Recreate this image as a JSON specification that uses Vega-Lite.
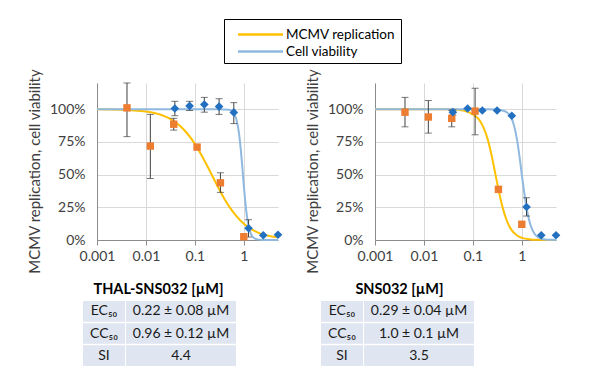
{
"$schema":"https://vega.github.io/schema/vega-lite/v6.json",
"background":"white",
"padding":{"left":27,"top":18,"right":0,"bottom":0},
"config":{"view":{"stroke":null},"font":"Lato",
 "axis":{"labelFontSize":14,"labelColor":"#404040","titleColor":"#404040","titleFontWeight":"normal","titleFontSize":15,"gridColor":"#d9d9d9","domainColor":"#8c8c8c","tickColor":"#8c8c8c","labelOverlap":false,"labelFlush":false}},
"datasets":{
"curves":[
{"panel":"THAL-SNS032","series":"MCMV replication","x":0.001,"y":0.999},
{"panel":"THAL-SNS032","series":"MCMV replication","x":0.002,"y":0.998},
{"panel":"THAL-SNS032","series":"MCMV replication","x":0.005,"y":0.992},
{"panel":"THAL-SNS032","series":"MCMV replication","x":0.01,"y":0.982},
{"panel":"THAL-SNS032","series":"MCMV replication","x":0.02,"y":0.957},
{"panel":"THAL-SNS032","series":"MCMV replication","x":0.03,"y":0.929},
{"panel":"THAL-SNS032","series":"MCMV replication","x":0.05,"y":0.871},
{"panel":"THAL-SNS032","series":"MCMV replication","x":0.07,"y":0.814},
{"panel":"THAL-SNS032","series":"MCMV replication","x":0.1,"y":0.735},
{"panel":"THAL-SNS032","series":"MCMV replication","x":0.15,"y":0.621},
{"panel":"THAL-SNS032","series":"MCMV replication","x":0.2,"y":0.531},
{"panel":"THAL-SNS032","series":"MCMV replication","x":0.3,"y":0.401},
{"panel":"THAL-SNS032","series":"MCMV replication","x":0.4,"y":0.316},
{"panel":"THAL-SNS032","series":"MCMV replication","x":0.5,"y":0.257},
{"panel":"THAL-SNS032","series":"MCMV replication","x":0.7,"y":0.184},
{"panel":"THAL-SNS032","series":"MCMV replication","x":1.0,"y":0.124},
{"panel":"THAL-SNS032","series":"MCMV replication","x":1.5,"y":0.078},
{"panel":"THAL-SNS032","series":"MCMV replication","x":2.0,"y":0.055},
{"panel":"THAL-SNS032","series":"MCMV replication","x":3.0,"y":0.035},
{"panel":"THAL-SNS032","series":"MCMV replication","x":5.0,"y":0.02},
{"panel":"THAL-SNS032","series":"Cell viability","x":0.001,"y":1.0},
{"panel":"THAL-SNS032","series":"Cell viability","x":0.1,"y":1.0},
{"panel":"THAL-SNS032","series":"Cell viability","x":0.3,"y":0.999},
{"panel":"THAL-SNS032","series":"Cell viability","x":0.5,"y":0.995},
{"panel":"THAL-SNS032","series":"Cell viability","x":0.6,"y":0.977},
{"panel":"THAL-SNS032","series":"Cell viability","x":0.7,"y":0.926},
{"panel":"THAL-SNS032","series":"Cell viability","x":0.8,"y":0.811},
{"panel":"THAL-SNS032","series":"Cell viability","x":0.9,"y":0.626},
{"panel":"THAL-SNS032","series":"Cell viability","x":0.96,"y":0.5},
{"panel":"THAL-SNS032","series":"Cell viability","x":1.0,"y":0.419},
{"panel":"THAL-SNS032","series":"Cell viability","x":1.1,"y":0.252},
{"panel":"THAL-SNS032","series":"Cell viability","x":1.2,"y":0.144},
{"panel":"THAL-SNS032","series":"Cell viability","x":1.3,"y":0.081},
{"panel":"THAL-SNS032","series":"Cell viability","x":1.5,"y":0.027},
{"panel":"THAL-SNS032","series":"Cell viability","x":1.8,"y":0.0065},
{"panel":"THAL-SNS032","series":"Cell viability","x":2.2,"y":0.0013},
{"panel":"THAL-SNS032","series":"Cell viability","x":3.0,"y":0.0},
{"panel":"THAL-SNS032","series":"Cell viability","x":5.0,"y":0.0},
{"panel":"SNS032","series":"MCMV replication","x":0.001,"y":1.0},
{"panel":"SNS032","series":"MCMV replication","x":0.03,"y":0.999},
{"panel":"SNS032","series":"MCMV replication","x":0.05,"y":0.995},
{"panel":"SNS032","series":"MCMV replication","x":0.07,"y":0.985},
{"panel":"SNS032","series":"MCMV replication","x":0.1,"y":0.96},
{"panel":"SNS032","series":"MCMV replication","x":0.13,"y":0.925},
{"panel":"SNS032","series":"MCMV replication","x":0.15,"y":0.89},
{"panel":"SNS032","series":"MCMV replication","x":0.18,"y":0.825},
{"panel":"SNS032","series":"MCMV replication","x":0.2,"y":0.773},
{"panel":"SNS032","series":"MCMV replication","x":0.25,"y":0.62},
{"panel":"SNS032","series":"MCMV replication","x":0.29,"y":0.5},
{"panel":"SNS032","series":"MCMV replication","x":0.33,"y":0.395},
{"panel":"SNS032","series":"MCMV replication","x":0.4,"y":0.257},
{"panel":"SNS032","series":"MCMV replication","x":0.5,"y":0.142},
{"panel":"SNS032","series":"MCMV replication","x":0.6,"y":0.083},
{"panel":"SNS032","series":"MCMV replication","x":0.8,"y":0.034},
{"panel":"SNS032","series":"MCMV replication","x":1.0,"y":0.0165},
{"panel":"SNS032","series":"MCMV replication","x":1.5,"y":0.0044},
{"panel":"SNS032","series":"MCMV replication","x":2.0,"y":0.0017},
{"panel":"SNS032","series":"MCMV replication","x":3.0,"y":0.0004},
{"panel":"SNS032","series":"MCMV replication","x":5.0,"y":0.0},
{"panel":"SNS032","series":"Cell viability","x":0.001,"y":1.0},
{"panel":"SNS032","series":"Cell viability","x":0.2,"y":0.9997},
{"panel":"SNS032","series":"Cell viability","x":0.3,"y":0.998},
{"panel":"SNS032","series":"Cell viability","x":0.4,"y":0.99},
{"panel":"SNS032","series":"Cell viability","x":0.5,"y":0.975},
{"panel":"SNS032","series":"Cell viability","x":0.6,"y":0.94},
{"panel":"SNS032","series":"Cell viability","x":0.7,"y":0.87},
{"panel":"SNS032","series":"Cell viability","x":0.8,"y":0.765},
{"panel":"SNS032","series":"Cell viability","x":0.9,"y":0.635},
{"panel":"SNS032","series":"Cell viability","x":1.0,"y":0.5},
{"panel":"SNS032","series":"Cell viability","x":1.1,"y":0.383},
{"panel":"SNS032","series":"Cell viability","x":1.2,"y":0.287},
{"panel":"SNS032","series":"Cell viability","x":1.3,"y":0.212},
{"panel":"SNS032","series":"Cell viability","x":1.5,"y":0.116},
{"panel":"SNS032","series":"Cell viability","x":1.8,"y":0.05},
{"panel":"SNS032","series":"Cell viability","x":2.0,"y":0.03},
{"panel":"SNS032","series":"Cell viability","x":2.5,"y":0.01},
{"panel":"SNS032","series":"Cell viability","x":3.0,"y":0.004},
{"panel":"SNS032","series":"Cell viability","x":4.0,"y":0.001},
{"panel":"SNS032","series":"Cell viability","x":5.0,"y":0.0003}
],
"points":[
{"panel":"THAL-SNS032","series":"MCMV replication","x":0.0041,"y":1.01,"lo":0.79,"hi":1.2},
{"panel":"THAL-SNS032","series":"MCMV replication","x":0.0123,"y":0.718,"lo":0.47,"hi":0.96},
{"panel":"THAL-SNS032","series":"MCMV replication","x":0.037,"y":0.885,"lo":0.84,"hi":0.93},
{"panel":"THAL-SNS032","series":"MCMV replication","x":0.111,"y":0.71,"lo":null,"hi":null},
{"panel":"THAL-SNS032","series":"MCMV replication","x":0.333,"y":0.437,"lo":0.364,"hi":0.514},
{"panel":"THAL-SNS032","series":"MCMV replication","x":1.0,"y":0.025,"lo":null,"hi":null},
{"panel":"THAL-SNS032","series":"Cell viability","x":0.039,"y":1.005,"lo":0.95,"hi":1.06},
{"panel":"THAL-SNS032","series":"Cell viability","x":0.078,"y":1.025,"lo":0.99,"hi":1.06},
{"panel":"THAL-SNS032","series":"Cell viability","x":0.156,"y":1.036,"lo":0.977,"hi":1.09},
{"panel":"THAL-SNS032","series":"Cell viability","x":0.3125,"y":1.02,"lo":0.96,"hi":1.08},
{"panel":"THAL-SNS032","series":"Cell viability","x":0.625,"y":0.975,"lo":0.89,"hi":1.05},
{"panel":"THAL-SNS032","series":"Cell viability","x":1.25,"y":0.09,"lo":0.023,"hi":0.155},
{"panel":"THAL-SNS032","series":"Cell viability","x":2.5,"y":0.036,"lo":null,"hi":null},
{"panel":"THAL-SNS032","series":"Cell viability","x":5.0,"y":0.04,"lo":null,"hi":null},
{"panel":"SNS032","series":"MCMV replication","x":0.0041,"y":0.977,"lo":0.865,"hi":1.09},
{"panel":"SNS032","series":"MCMV replication","x":0.0123,"y":0.94,"lo":0.817,"hi":1.066},
{"panel":"SNS032","series":"MCMV replication","x":0.037,"y":0.93,"lo":0.865,"hi":0.99},
{"panel":"SNS032","series":"MCMV replication","x":0.111,"y":0.985,"lo":0.804,"hi":1.16},
{"panel":"SNS032","series":"MCMV replication","x":0.333,"y":0.387,"lo":null,"hi":null},
{"panel":"SNS032","series":"MCMV replication","x":1.0,"y":0.12,"lo":null,"hi":null},
{"panel":"SNS032","series":"Cell viability","x":0.039,"y":0.977,"lo":0.955,"hi":0.995},
{"panel":"SNS032","series":"Cell viability","x":0.078,"y":1.005,"lo":null,"hi":null},
{"panel":"SNS032","series":"Cell viability","x":0.156,"y":0.99,"lo":null,"hi":null},
{"panel":"SNS032","series":"Cell viability","x":0.3125,"y":0.99,"lo":null,"hi":null},
{"panel":"SNS032","series":"Cell viability","x":0.625,"y":0.95,"lo":null,"hi":null},
{"panel":"SNS032","series":"Cell viability","x":1.25,"y":0.252,"lo":0.183,"hi":0.323},
{"panel":"SNS032","series":"Cell viability","x":2.5,"y":0.036,"lo":null,"hi":null},
{"panel":"SNS032","series":"Cell viability","x":5.0,"y":0.036,"lo":null,"hi":null}
],
"table":[
{"panel":"THAL-SNS032","row":"EC","col":"label","text":"EC₅₀"},
{"panel":"THAL-SNS032","row":"EC","col":"value","text":"0.22 ± 0.08 µM"},
{"panel":"THAL-SNS032","row":"CC","col":"label","text":"CC₅₀"},
{"panel":"THAL-SNS032","row":"CC","col":"value","text":"0.96 ± 0.12 µM"},
{"panel":"THAL-SNS032","row":"SI","col":"label","text":"SI"},
{"panel":"THAL-SNS032","row":"SI","col":"value","text":"4.4"},
{"panel":"SNS032","row":"EC","col":"label","text":"EC₅₀"},
{"panel":"SNS032","row":"EC","col":"value","text":"0.29 ± 0.04 µM"},
{"panel":"SNS032","row":"CC","col":"label","text":"CC₅₀"},
{"panel":"SNS032","row":"CC","col":"value","text":"1.0 ± 0.1 µM"},
{"panel":"SNS032","row":"SI","col":"label","text":"SI"},
{"panel":"SNS032","row":"SI","col":"value","text":"3.5"}
]},
"spacing":22,
"hconcat":[
{"vconcat":[
 {"width":181,"height":157,
  "layer":[
   {"data":{"name":"curves"},"transform":[{"filter":"datum.panel==='THAL-SNS032'"}],
    "mark":{"type":"line","strokeWidth":2,"interpolate":"monotone"},
    "encoding":{
     "x":{"field":"x","type":"quantitative","title":null,"scale":{"type":"log","domain":[0.001,5],"nice":false},"axis":{"values":[0.001,0.01,0.1,1],"format":"~g","tickSize":5,"labelPadding":4}},
     "y":{"field":"y","type":"quantitative","title":"MCMV replication, cell viability","scale":{"domain":[0,1.2],"nice":false},"axis":{"values":[0,0.25,0.5,0.75,1],"format":".0%","ticks":false,"labelPadding":12,"titlePadding":7,"titleY":88}},
     "color":{"field":"series","type":"nominal","scale":{"domain":["MCMV replication","Cell viability"],"range":["#ffc000","#8fb9df"]},
      "legend":{"orient":"none","legendX":127,"legendY":-64,"title":null,"symbolType":"M-2.5,0H2.5","symbolStrokeWidth":2.5,"symbolSize":324,"symbolOffset":21,"labelFontSize":13.5,"labelColor":"#000","strokeColor":"#000","padding":5,"labelOffset":15,"rowPadding":0}}
    }},
   {"data":{"name":"points"},"transform":[{"filter":"datum.panel==='THAL-SNS032' && datum.lo != null"}],
    "mark":{"type":"errorbar","ticks":{"size":7},"color":"#404040","thickness":1},
    "encoding":{"x":{"field":"x","type":"quantitative","title":null,"scale":{"type":"log","domain":[0.001,5],"nice":false},"axis":{"values":[0.001,0.01,0.1,1],"format":"~g","tickSize":5,"labelPadding":4}},
     "y":{"field":"lo","type":"quantitative","title":"MCMV replication, cell viability","scale":{"domain":[0,1.2],"nice":false},"axis":{"values":[0,0.25,0.5,0.75,1],"format":".0%","ticks":false,"labelPadding":12,"titlePadding":7,"titleY":88}},"y2":{"field":"hi"}}},
   {"data":{"name":"points"},"transform":[{"filter":"datum.panel==='THAL-SNS032' && datum.series==='MCMV replication'"}],
    "mark":{"type":"square","size":55,"color":"#ed7d31","opacity":1},
    "encoding":{"x":{"field":"x","type":"quantitative","title":null,"scale":{"type":"log","domain":[0.001,5],"nice":false},"axis":{"values":[0.001,0.01,0.1,1],"format":"~g","tickSize":5,"labelPadding":4}},
     "y":{"field":"y","type":"quantitative","title":"MCMV replication, cell viability","scale":{"domain":[0,1.2],"nice":false},"axis":{"values":[0,0.25,0.5,0.75,1],"format":".0%","ticks":false,"labelPadding":12,"titlePadding":7,"titleY":88}}}},
   {"data":{"name":"points"},"transform":[{"filter":"datum.panel==='THAL-SNS032' && datum.series==='Cell viability'"}],
    "mark":{"type":"point","shape":"diamond","filled":true,"size":75,"color":"#2370c0","opacity":1},
    "encoding":{"x":{"field":"x","type":"quantitative","title":null,"scale":{"type":"log","domain":[0.001,5],"nice":false},"axis":{"values":[0.001,0.01,0.1,1],"format":"~g","tickSize":5,"labelPadding":4}},
     "y":{"field":"y","type":"quantitative","title":"MCMV replication, cell viability","scale":{"domain":[0,1.2],"nice":false},"axis":{"values":[0,0.25,0.5,0.75,1],"format":".0%","ticks":false,"labelPadding":12,"titlePadding":7,"titleY":88}}}}
  ]},
 {"width":181,"height":65,
  "title":{"text":"THAL-SNS032 [µM]","fontSize":14.5,"fontWeight":"bold","color":"#000","dx":-29,"offset":4},
  "data":{"name":"table"},"transform":[{"filter":"datum.panel==='THAL-SNS032'"}],
  "layer":[
   {"transform":[{"filter":"datum.col==='label'"}],"mark":{"type":"rect","width":42,"color":"#dfe6f1"},
    "encoding":{"x":{"field":"col","type":"nominal","scale":{"type":"point","domain":["label","value"],"range":[7,84],"padding":0},"axis":null},
     "y":{"field":"row","type":"nominal","scale":{"type":"band","domain":["EC","CC","SI"],"paddingInner":0.07,"paddingOuter":0},"axis":null}}},
   {"transform":[{"filter":"datum.col==='value'"}],"mark":{"type":"rect","width":110,"color":"#dfe6f1"},
    "encoding":{"x":{"field":"col","type":"nominal","scale":{"type":"point","domain":["label","value"],"range":[7,84],"padding":0},"axis":null},
     "y":{"field":"row","type":"nominal","scale":{"type":"band","domain":["EC","CC","SI"],"paddingInner":0.07,"paddingOuter":0},"axis":null}}},
   {"mark":{"type":"text","fontSize":14,"color":"#1a1a1a","align":"center"},
    "encoding":{"x":{"field":"col","type":"nominal","scale":{"type":"point","domain":["label","value"],"range":[7,84],"padding":0},"axis":null},
     "y":{"field":"row","type":"nominal","scale":{"type":"band","domain":["EC","CC","SI"],"paddingInner":0.07,"paddingOuter":0},"axis":null},
     "text":{"field":"text"}}}
  ]}
],"spacing":61,"bounds":"flush"},
{"vconcat":[
 {"width":181,"height":157,
  "layer":[
   {"data":{"name":"curves"},"transform":[{"filter":"datum.panel==='SNS032'"}],
    "mark":{"type":"line","strokeWidth":2,"interpolate":"monotone"},
    "encoding":{
     "x":{"field":"x","type":"quantitative","title":null,"scale":{"type":"log","domain":[0.001,5],"nice":false},"axis":{"values":[0.001,0.01,0.1,1],"format":"~g","tickSize":5,"labelPadding":4}},
     "y":{"field":"y","type":"quantitative","title":"MCMV replication, cell viability","scale":{"domain":[0,1.2],"nice":false},"axis":{"values":[0,0.25,0.5,0.75,1],"format":".0%","ticks":false,"labelPadding":12,"titlePadding":7,"titleY":88}},
     "color":{"field":"series","type":"nominal","scale":{"domain":["MCMV replication","Cell viability"],"range":["#ffc000","#8fb9df"]},
      "legend":{"orient":"none","legendX":127,"legendY":-64,"title":null,"symbolType":"M-2.5,0H2.5","symbolStrokeWidth":2.5,"symbolSize":324,"symbolOffset":21,"labelFontSize":13.5,"labelColor":"#000","strokeColor":"#000","padding":5,"labelOffset":15,"rowPadding":0}}
    }},
   {"data":{"name":"points"},"transform":[{"filter":"datum.panel==='SNS032' && datum.lo != null"}],
    "mark":{"type":"errorbar","ticks":{"size":7},"color":"#404040","thickness":1},
    "encoding":{"x":{"field":"x","type":"quantitative","title":null,"scale":{"type":"log","domain":[0.001,5],"nice":false},"axis":{"values":[0.001,0.01,0.1,1],"format":"~g","tickSize":5,"labelPadding":4}},
     "y":{"field":"lo","type":"quantitative","title":"MCMV replication, cell viability","scale":{"domain":[0,1.2],"nice":false},"axis":{"values":[0,0.25,0.5,0.75,1],"format":".0%","ticks":false,"labelPadding":12,"titlePadding":7,"titleY":88}},"y2":{"field":"hi"}}},
   {"data":{"name":"points"},"transform":[{"filter":"datum.panel==='SNS032' && datum.series==='MCMV replication'"}],
    "mark":{"type":"square","size":55,"color":"#ed7d31","opacity":1},
    "encoding":{"x":{"field":"x","type":"quantitative","title":null,"scale":{"type":"log","domain":[0.001,5],"nice":false},"axis":{"values":[0.001,0.01,0.1,1],"format":"~g","tickSize":5,"labelPadding":4}},
     "y":{"field":"y","type":"quantitative","title":"MCMV replication, cell viability","scale":{"domain":[0,1.2],"nice":false},"axis":{"values":[0,0.25,0.5,0.75,1],"format":".0%","ticks":false,"labelPadding":12,"titlePadding":7,"titleY":88}}}},
   {"data":{"name":"points"},"transform":[{"filter":"datum.panel==='SNS032' && datum.series==='Cell viability'"}],
    "mark":{"type":"point","shape":"diamond","filled":true,"size":75,"color":"#2370c0","opacity":1},
    "encoding":{"x":{"field":"x","type":"quantitative","title":null,"scale":{"type":"log","domain":[0.001,5],"nice":false},"axis":{"values":[0.001,0.01,0.1,1],"format":"~g","tickSize":5,"labelPadding":4}},
     "y":{"field":"y","type":"quantitative","title":"MCMV replication, cell viability","scale":{"domain":[0,1.2],"nice":false},"axis":{"values":[0,0.25,0.5,0.75,1],"format":".0%","ticks":false,"labelPadding":12,"titlePadding":7,"titleY":88}}}}
  ]},
 {"width":181,"height":65,
  "title":{"text":"SNS032 [µM]","fontSize":14.5,"fontWeight":"bold","color":"#000","dx":-66,"offset":4},
  "data":{"name":"table"},"transform":[{"filter":"datum.panel==='SNS032'"}],
  "layer":[
   {"transform":[{"filter":"datum.col==='label'"}],"mark":{"type":"rect","width":42,"color":"#dfe6f1"},
    "encoding":{"x":{"field":"col","type":"nominal","scale":{"type":"point","domain":["label","value"],"range":[-33,44],"padding":0},"axis":null},
     "y":{"field":"row","type":"nominal","scale":{"type":"band","domain":["EC","CC","SI"],"paddingInner":0.07,"paddingOuter":0},"axis":null}}},
   {"transform":[{"filter":"datum.col==='value'"}],"mark":{"type":"rect","width":110,"color":"#dfe6f1"},
    "encoding":{"x":{"field":"col","type":"nominal","scale":{"type":"point","domain":["label","value"],"range":[-33,44],"padding":0},"axis":null},
     "y":{"field":"row","type":"nominal","scale":{"type":"band","domain":["EC","CC","SI"],"paddingInner":0.07,"paddingOuter":0},"axis":null}}},
   {"mark":{"type":"text","fontSize":14,"color":"#1a1a1a","align":"center"},
    "encoding":{"x":{"field":"col","type":"nominal","scale":{"type":"point","domain":["label","value"],"range":[-33,44],"padding":0},"axis":null},
     "y":{"field":"row","type":"nominal","scale":{"type":"band","domain":["EC","CC","SI"],"paddingInner":0.07,"paddingOuter":0},"axis":null},
     "text":{"field":"text"}}}
  ]}
],"spacing":61,"bounds":"flush"}
]
}
